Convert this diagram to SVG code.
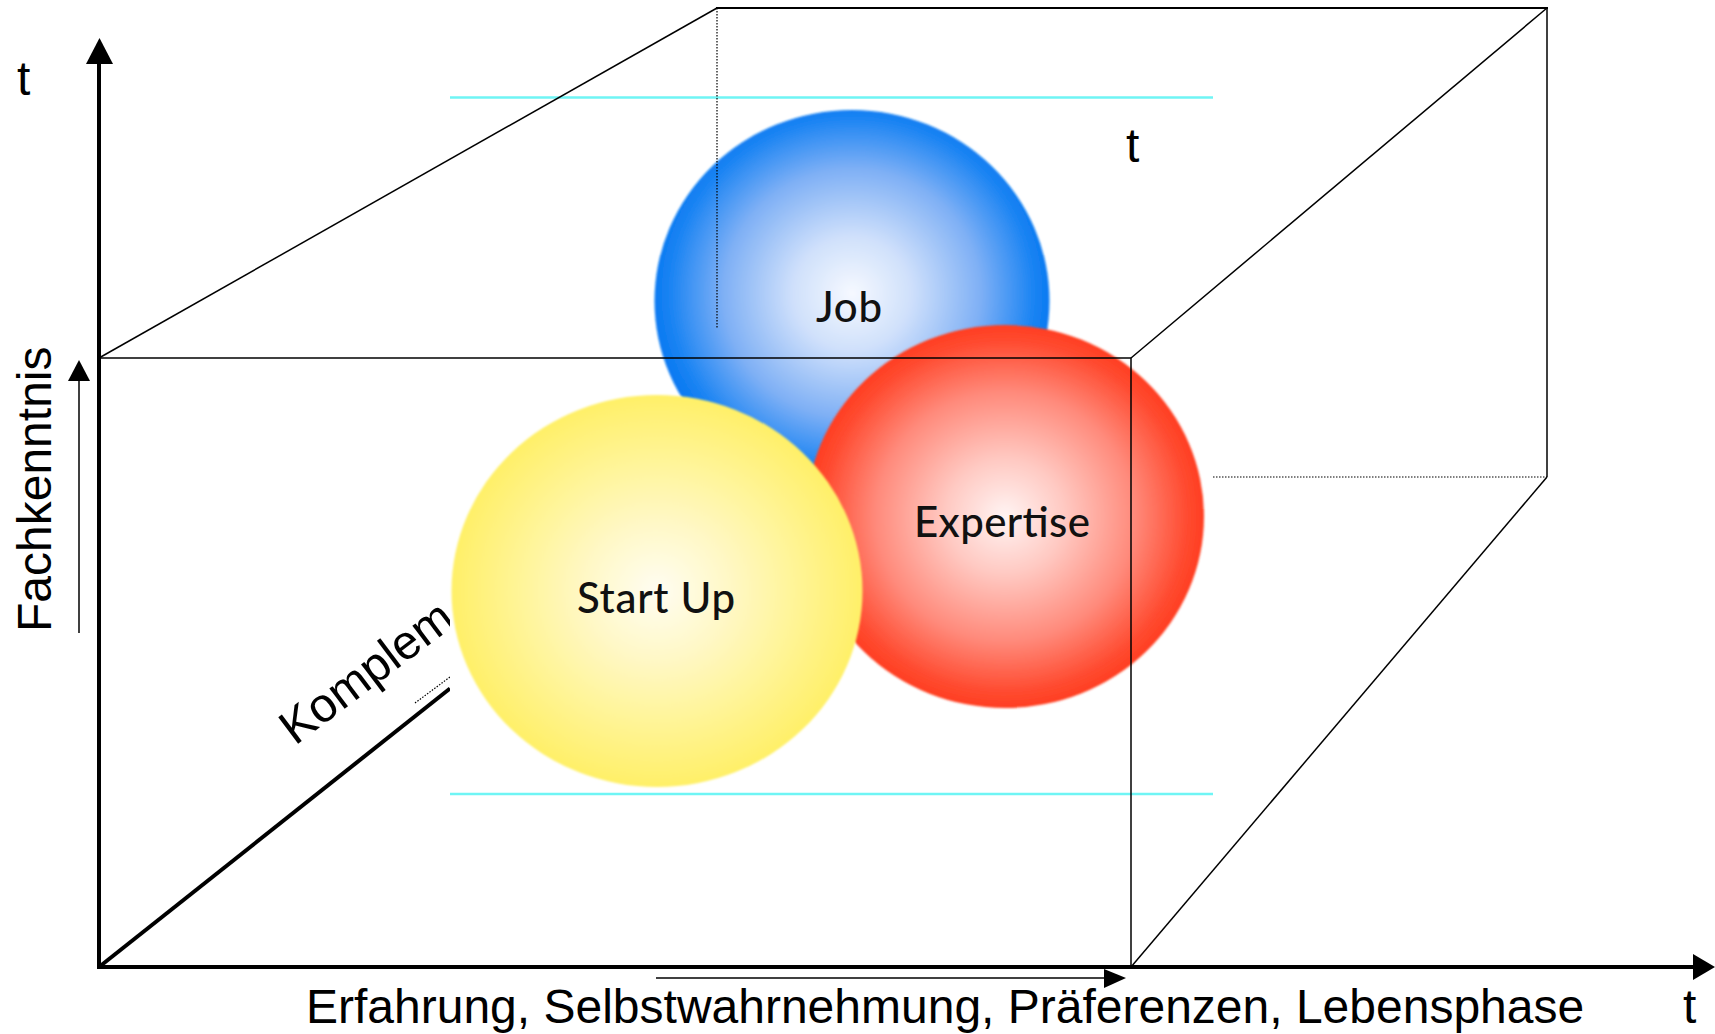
<svg xmlns="http://www.w3.org/2000/svg" width="1715" height="1034" viewBox="0 0 1715 1034">
  <defs>
    <radialGradient id="gBlue" cx="50%" cy="48%" r="50%">
      <stop offset="0" stop-color="#f6f9ff"/>
      <stop offset="0.3" stop-color="#cfe0fb"/>
      <stop offset="0.65" stop-color="#7fb0f5"/>
      <stop offset="0.92" stop-color="#1b84f3"/>
      <stop offset="1" stop-color="#0a7af2"/>
    </radialGradient>
    <radialGradient id="gRed" cx="50%" cy="50%" r="50%">
      <stop offset="0" stop-color="#fff4f3"/>
      <stop offset="0.3" stop-color="#ffc9c2"/>
      <stop offset="0.65" stop-color="#ff8a7b"/>
      <stop offset="0.92" stop-color="#ff4a2f"/>
      <stop offset="1" stop-color="#ff3e22"/>
    </radialGradient>
    <radialGradient id="gYellow" cx="50%" cy="50%" r="50%">
      <stop offset="0" stop-color="#fffdf2"/>
      <stop offset="0.35" stop-color="#fff8c6"/>
      <stop offset="0.7" stop-color="#fff493"/>
      <stop offset="1" stop-color="#fff068"/>
    </radialGradient>
    <filter id="soft" x="-5%" y="-5%" width="110%" height="110%">
      <feGaussianBlur stdDeviation="0.9"/>
    </filter>
  </defs>
  <style>
    .thin { stroke: #000; stroke-width: 1.5; fill: none; }
    .thick { stroke: #000; stroke-width: 4; fill: none; }
    .dot { stroke: #000; stroke-width: 1.2; stroke-dasharray: 1.5 1.5; fill: none; }
    .cyan { stroke: #6ff5f5; stroke-width: 2.5; }
    .axis { font-family: "Liberation Sans", Arial, sans-serif; font-size: 48px; fill: #000; }
    .lbl { font-family: Lato, "Open Sans", sans-serif; font-size: 42px; font-weight: 500; fill: #111; text-anchor: middle; }
    .head { fill: #000; }
  </style>
  <rect width="1715" height="1034" fill="#fff"/>

  <!-- background (hidden by picture) -->
  <g id="connectors">
    <line class="thick" x1="99" y1="967" x2="450" y2="688.5"/>
    <line class="dot" x1="415" y1="703" x2="450" y2="677"/>
  </g>
  <text class="axis" transform="translate(295,746) rotate(-37)">Komplem</text>

  <!-- picture of spheres -->
  <g id="spheres">
    <rect x="450" y="97" width="763" height="697" fill="#fff"/>
    <line class="cyan" x1="450" y1="97.5" x2="1213" y2="97.5"/>
    <line class="cyan" x1="450" y1="794" x2="1213" y2="794"/>
    <g id="job">
      <ellipse cx="852" cy="301" rx="197.5" ry="191" fill="url(#gBlue)" filter="url(#soft)"/>
      <text class="lbl" x="849" y="322" textLength="66">Job</text>
    </g>
    <g id="expertise">
      <ellipse cx="1005" cy="516.5" rx="199" ry="191.5" fill="url(#gRed)" filter="url(#soft)"/>
      <text class="lbl" x="1002" y="537" textLength="176">Expertise</text>
    </g>
    <g id="startup">
      <ellipse cx="657" cy="591" rx="205.5" ry="196" fill="url(#gYellow)" filter="url(#soft)"/>
      <text class="lbl" x="656" y="613" textLength="158">Start Up</text>
    </g>
  </g>

  <!-- cube -->
  <g id="cube">
    <line class="thin" x1="99" y1="358" x2="717" y2="8"/>
    <line class="thin" x1="716" y1="8" x2="1548" y2="8" style="stroke-width:2"/>
    <line class="thin" x1="99" y1="358" x2="1131" y2="358"/>
    <line class="thin" x1="1131" y1="358" x2="1547" y2="8"/>
    <line class="thin" x1="1547" y1="8" x2="1547" y2="477"/>
    <line class="thin" x1="1131" y1="358" x2="1131" y2="967"/>
    <line class="thin" x1="1547" y1="477" x2="1131" y2="967"/>
    <line class="dot" x1="1213" y1="477" x2="1547" y2="477"/>
    <line class="dot" x1="717" y1="8" x2="717" y2="329"/>
  </g>

  <!-- axes -->
  <g id="axes">
    <line class="thick" x1="99" y1="969" x2="99" y2="62"/>
    <polygon class="head" points="86,64 99.5,38 113,64"/>
    <line class="thick" x1="97" y1="967" x2="1695" y2="967"/>
    <polygon class="head" points="1693,954 1715,967 1693,980"/>
    <line class="thin" x1="79" y1="633" x2="79" y2="379"/>
    <polygon class="head" points="68,381 79,360 90,381"/>
    <line class="thin" x1="656" y1="978" x2="1106" y2="978"/>
    <polygon class="head" points="1104,969 1126,978 1104,988"/>
  </g>

  <!-- labels -->
  <text class="axis" x="17" y="95">t</text>
  <text class="axis" x="1126" y="162">t</text>
  <text class="axis" x="1683" y="1023">t</text>
  <text class="axis" x="306" y="1023">Erfahrung, Selbstwahrnehmung, Präferenzen, Lebensphase</text>
  <text class="axis" transform="translate(51,632) rotate(-90)">Fachkenntnis</text>
</svg>
